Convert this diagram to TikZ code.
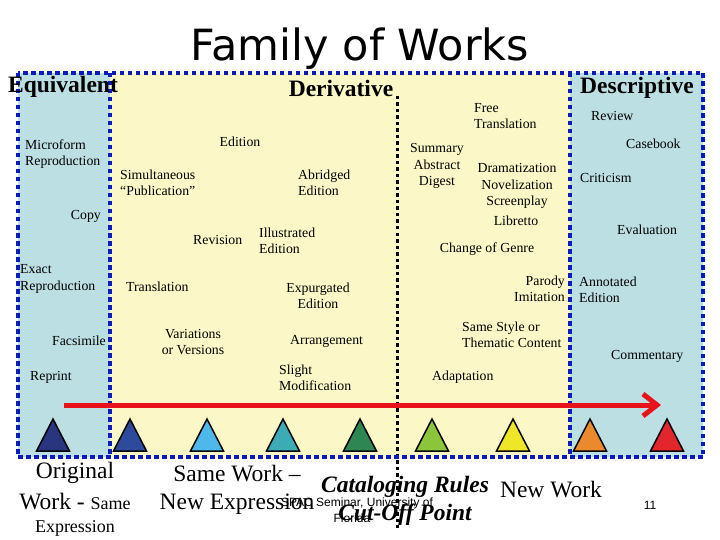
\documentclass[tikz,border=0pt]{standalone}
\usepackage{fontspec}
\setmainfont{Liberation Serif}
\newfontfamily\titlefont{DejaVu Sans}
\newfontfamily\footfont{Liberation Sans}
\usetikzlibrary{arrows.meta}
\definecolor{bgblue}{HTML}{BCDFE4}
\definecolor{bgyellow}{HTML}{FBF7C6}
\definecolor{dotblue}{HTML}{0B1DB8}
\definecolor{arrred}{HTML}{E8121A}
\definecolor{tA}{HTML}{28357F}
\definecolor{tB}{HTML}{2E4A9C}
\definecolor{tC}{HTML}{4DB8EC}
\definecolor{tD}{HTML}{3BABB5}
\definecolor{tE}{HTML}{2E8752}
\definecolor{tF}{HTML}{8CC43C}
\definecolor{tG}{HTML}{F0E628}
\definecolor{tH}{HTML}{EA8A2C}
\definecolor{tI}{HTML}{E3262B}
\begin{document}
\begin{tikzpicture}[x=1pt,y=-1pt,
  lbl/.style={font=\fontsize{13.8}{16.5}\selectfont, inner sep=0pt},
  hdr/.style={font=\bfseries\fontsize{23.5}{27}\selectfont, inner sep=0pt},
  big/.style={font=\fontsize{23.5}{28}\selectfont, inner sep=0pt},
  bigbi/.style={font=\bfseries\itshape\fontsize{23.5}{28}\selectfont, inner sep=0pt},
  foot/.style={font=\footfont\fontsize{12}{14}\selectfont, inner sep=0pt},
  bluedots/.style={draw=dotblue, line width=4pt, dash pattern=on 4.5pt off 3.5pt},
  blackdots/.style={draw=black, line width=3pt, dash pattern=on 3.5pt off 3pt},
  tri/.style={draw=black, line width=1.5pt, line join=miter}]
\useasboundingbox (0,0) rectangle (720,540);
\fill[white] (0,0) rectangle (720,540);
% backgrounds
\fill[bgblue] (18,73) rectangle (110,457);
\fill[bgyellow] (110,73) rectangle (570,457);
\fill[bgblue] (570,73) rectangle (703,457);
% title
\node[font=\titlefont\fontsize{43}{48}\selectfont, inner sep=0pt, anchor=base] (title) at (360,61) {Family of Works};
% black dotted divider
\draw[blackdots] (397,96) -- (397,528);
% blue dotted frames
\draw[bluedots] (18,73) rectangle (703,457);
\draw[bluedots] (110,73) -- (110,457);
\draw[bluedots] (570,73) -- (570,457);
% headers
\node[hdr] (equivalent) at (63,87) {Equivalent};
\node[hdr] (derivative) at (341,88) {Derivative};
\node[hdr] (descriptive) at (637,88) {Descriptive};
% labels
\node[lbl, anchor=west, align=left] (micro) at (25,154) {Microform\\Reproduction};
\node[lbl] (edition) at (240,142) {Edition};
\node[lbl, anchor=west, align=left] (simult) at (120,183) {Simultaneous\\“Publication”};
\node[lbl, anchor=west, align=left] (abridged) at (298,183) {Abridged\\Edition};
\node[lbl, anchor=east] (copy) at (101,216) {Copy};
\node[lbl, anchor=west] (revision) at (193,240) {Revision};
\node[lbl, anchor=west, align=left] (illus) at (259,241) {Illustrated\\Edition};
\node[lbl, anchor=west, align=left] (exact) at (20,279) {Exact\\Reproduction};
\node[lbl, anchor=west] (transl) at (126,287) {Translation};
\node[lbl, align=center] (expurg) at (318,296) {Expurgated\\Edition};
\node[lbl, anchor=east] (facs) at (106,341) {Facsimile};
\node[lbl, align=center] (variations) at (193,342) {Variations\\or Versions};
\node[lbl, anchor=west] (arrangement) at (290,341) {Arrangement};
\node[lbl, anchor=west] (reprint) at (30,377) {Reprint};
\node[lbl, anchor=west, align=left] (slight) at (279,378) {Slight\\Modification};
\node[lbl, anchor=west, align=left] (free) at (474,116) {Free\\Translation};
\node[lbl, anchor=west] (review) at (591,116) {Review};
\node[lbl, anchor=west] (casebook) at (626,144) {Casebook};
\node[lbl, align=center] (summary) at (437,166) {Summary\\Abstract\\Digest};
\node[lbl, align=center] (dramat) at (517,186) {Dramatization\\Novelization\\Screenplay};
\node[lbl, anchor=west] (criticism) at (580,178) {Criticism};
\node[lbl] (libretto) at (516,221) {Libretto};
\node[lbl, anchor=west] (evaluation) at (617,230) {Evaluation};
\node[lbl] (genre) at (487,249) {Change of Genre};
\node[lbl, anchor=east, align=right] (parody) at (565,289) {Parody\\Imitation};
\node[lbl, anchor=west, align=left] (annotated) at (579,290) {Annotated\\Edition};
\node[lbl, anchor=west, align=left] (samestyle) at (462,335) {Same Style or\\Thematic Content};
\node[lbl, anchor=west] (commentary) at (611,356) {Commentary};
\node[lbl, anchor=west] (adaptation) at (432,377) {Adaptation};
% red arrow
\coordinate (arrstart) at (64,405);
\coordinate (arrtip) at (657,405);
\draw[arrred, line width=5pt] (arrstart) -- ([xshift=-2pt]arrtip);
\draw[arrred, line width=5pt, line join=miter] ([shift={(-14,-11)}]arrtip) -- (arrtip) -- ([shift={(-14,11)}]arrtip);
% triangles
\foreach \x/\c in {53/tA,130/tB,207/tC,283/tD,360/tE,432/tF,513/tG,590/tH,667/tI}{
  \filldraw[tri, fill=\c] (\x,419) -- (\x+16.5,451) -- (\x-16.5,451) -- cycle;
}
% bottom texts
\node[foot] (seminar) at (357,503) {SPAC Seminar, University of};
\node[foot] (florida) at (352,518) {Florida};
\node[big] (orig1) at (75,473) {Original};
\node[inner sep=0pt] (orig2) at (75,502) {\fontsize{23.5}{28}\selectfont Work -\ \fontsize{18}{22}\selectfont Same};
\node[inner sep=0pt, font=\fontsize{18}{22}\selectfont] (orig3) at (75,528) {Expression};
\node[big, align=center] (samework) at (237,490) {Same Work –\\New Expression};
\node[bigbi, align=center] (cutoff) at (405,501) {Cataloging Rules\\Cut-Off Point};
\node[big] (newwork) at (551,490) {New Work};
\node[foot] (pagenum) at (650,505) {11};
\end{tikzpicture}
\end{document}
